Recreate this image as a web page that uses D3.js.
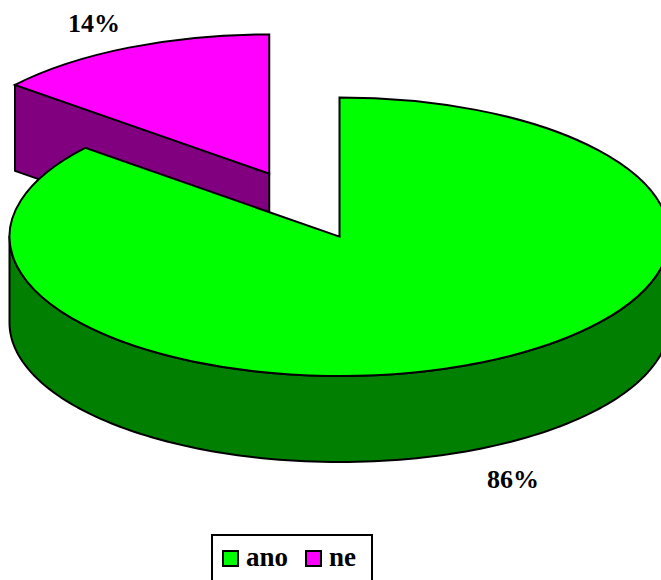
<!DOCTYPE html>
<html>
<head>
<meta charset="utf-8">
<script src="https://cdn.jsdelivr.net/npm/d3@7/dist/d3.min.js"></script>
<style>
  html, body { margin: 0; padding: 0; background: #fff; }
  svg { display: block; }
</style>
</head>
<body>
<svg id="chart" width="661" height="580"></svg>
<script>
// Answers and their shares (percent)
const categories = ["ano", "ne"];
const values = [86, 14];
const topColors = ["#00ff00", "#ff00ff"];
const sideColors = ["#007f00", "#800080"];
const explode = [0, 0.5];

const FONT = "'Liberation Serif', 'Times New Roman', Times, serif";

const cx = 339.5, cy = 236.7;   // centre of the pie's top face
const rx = 330, ry = 139.3;     // tilted ellipse radii
const depth = 86;               // thickness of the disc

const svg = d3.select("#chart");

const pie = d3.pie().sort(null).value(d => d.value).startAngle(0).endAngle(2 * Math.PI);
const arcs = pie(categories.map((c, i) => ({ name: c, value: values[i], i })));

// project an angle (clockwise from 12 o'clock) onto the tilted ellipse
function pt(a, ox, oy) {
  return [ox + rx * Math.sin(a), oy - ry * Math.cos(a)];
}
function offset(d) {
  const m = (d.startAngle + d.endAngle) / 2;
  const k = explode[d.data.i];
  return [cx + k * rx * Math.sin(m), cy - k * ry * Math.cos(m)];
}

const stroke = "#000", sw = 2;
const line = d3.line();

// draw back slices first, then the large front slice
[1, 0].forEach(idx => {
  const d = arcs[idx];
  const [ox, oy] = offset(d);
  const g = svg.append("g");
  const a0 = d.startAngle, a1 = d.endAngle;

  // radial side face at the start angle, facing the viewer
  if (a0 > Math.PI) {
    const p = pt(a0, ox, oy);
    g.append("path")
      .attr("d", line([[ox, oy], p, [p[0], p[1] + depth], [ox, oy + depth]]) + "Z")
      .attr("fill", sideColors[idx]).attr("stroke", stroke).attr("stroke-width", sw)
      .attr("stroke-linejoin", "round");
  }

  // outer curved wall over the front half of the ellipse
  const w0 = Math.max(a0, Math.PI / 2), w1 = Math.min(a1, 3 * Math.PI / 2);
  if (w1 > w0) {
    const n = 120;
    const topPts = d3.range(n + 1).map(j => pt(w0 + (w1 - w0) * j / n, ox, oy));
    const botPts = topPts.map(p => [p[0], p[1] + depth]).reverse();
    g.append("path")
      .attr("d", line(topPts.concat(botPts)) + "Z")
      .attr("fill", sideColors[idx]).attr("stroke", stroke).attr("stroke-width", sw)
      .attr("stroke-linejoin", "round");
  }

  // top face
  const s = pt(a0, ox, oy), e = pt(a1, ox, oy);
  const large = (a1 - a0) > Math.PI ? 1 : 0;
  g.append("path")
    .attr("d", `M${ox},${oy}L${s[0]},${s[1]}A${rx},${ry} 0 ${large} 1 ${e[0]},${e[1]}Z`)
    .attr("fill", topColors[idx]).attr("stroke", stroke).attr("stroke-width", sw);
});

// percentage labels
const labelPos = [[513, 488], [94, 32]];
arcs.forEach((d, i) => {
  svg.append("text")
    .attr("x", labelPos[i][0]).attr("y", labelPos[i][1])
    .attr("text-anchor", "middle")
    .attr("font-family", FONT).attr("font-weight", "bold")
    .attr("font-size", 26)
    .text(d.data.value + "%");
});

// legend
const lg = svg.append("g");
lg.append("rect").attr("x", 212).attr("y", 535).attr("width", 160).attr("height", 60)
  .attr("fill", "#fff").attr("stroke", "#000").attr("stroke-width", 2);
const legendX = [223, 306];
categories.forEach((c, i) => {
  lg.append("rect").attr("x", legendX[i]).attr("y", 551).attr("width", 15).attr("height", 15)
    .attr("fill", topColors[i]).attr("stroke", "#000").attr("stroke-width", 2);
  lg.append("text").attr("x", legendX[i] + 23).attr("y", 566)
    .attr("font-family", FONT).attr("font-weight", "bold")
    .attr("font-size", 27).text(c);
});
</script>
</body>
</html>
